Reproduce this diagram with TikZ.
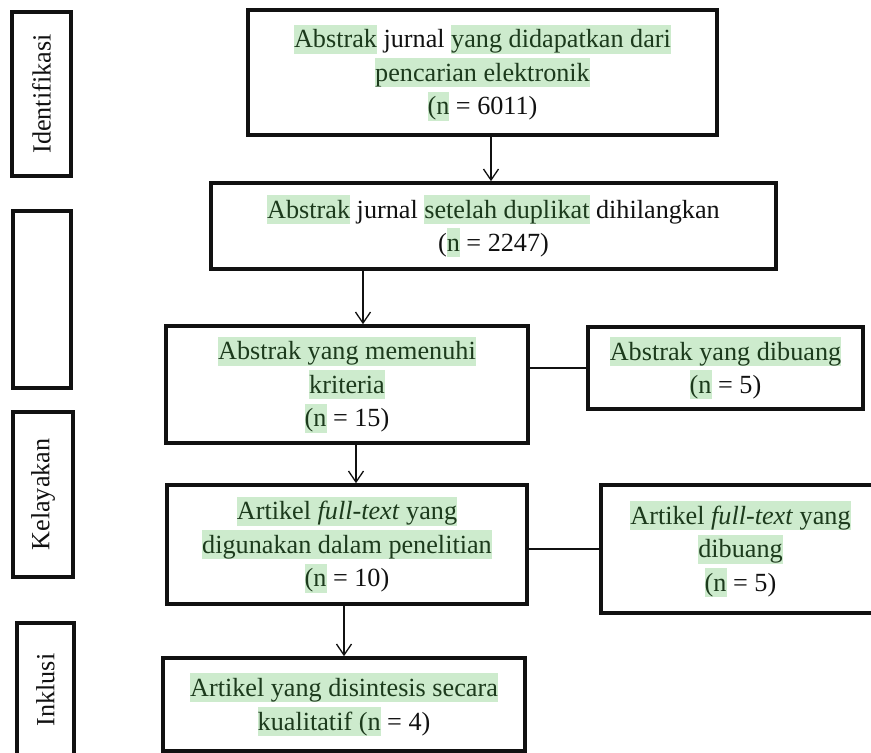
\documentclass[tikz,border=0pt]{standalone}
\usepackage{fontspec}
\setmainfont{Liberation Serif}
\usetikzlibrary{arrows.meta}
\definecolor{hlbg}{HTML}{CDEBCD}
\definecolor{hltext}{HTML}{1C3A1C}
\definecolor{ink}{HTML}{111111}
\newcommand\hlstrut{\rule[-0.216em]{0pt}{1.107em}}
\newcommand\hlt[1]{\begingroup\setlength{\fboxsep}{0pt}\colorbox{hlbg}{\hlstrut\textcolor{hltext}{#1}}\endgroup}
\begin{document}
\begin{tikzpicture}[x=1pt,y=-1pt,
  box/.style={draw=ink, line width=3.6pt, inner sep=0pt, align=center, text=ink,
    font=\fontsize{26.2}{33.5}\selectfont},
  side/.style={box, rotate=90},
  conn/.style={draw=ink, line width=1.3pt},
  arr/.style={conn, -{Straight Barb[length=11pt,width=15pt,line width=1.3pt]}}]
\useasboundingbox (0,0) rectangle (871,753);

% main flow
\node[box, minimum width=469pt, minimum height=125pt] (b1) at (482.5,72.5)
  {\hlt{Abstrak} jurnal \hlt{yang didapatkan dari}\\\hlt{pencarian elektronik}\\\hlt{(n} = 6011)};
\node[box, minimum width=565pt, minimum height=86pt] (b2) at (493.5,226)
  {\hlt{Abstrak} jurnal \hlt{setelah duplikat} dihilangkan\\(\hlt{n} = 2247)};
\node[box, minimum width=362pt, minimum height=117pt] (b3) at (347,384.5)
  {\hlt{Abstrak yang memenuhi}\\\hlt{kriteria}\\\hlt{(n} = 15)};
\node[box, minimum width=275pt, minimum height=82pt] (d1) at (725.5,368)
  {\hlt{Abstrak yang dibuang}\\\hlt{(n} = 5)};
\node[box, minimum width=360pt, minimum height=119pt] (b4) at (347,544.5)
  {\hlt{Artikel \textit{full-text} yang}\\\hlt{digunakan dalam penelitian}\\\hlt{(n} = 10)};
\node[box, minimum width=279pt, minimum height=128pt] (d2) at (740.5,549)
  {\hlt{Artikel \textit{full-text} yang}\\\hlt{dibuang}\\\hlt{(n} = 5)};
\node[box, minimum width=362pt, minimum height=93pt] (b5) at (344,704.5)
  {\hlt{Artikel yang disintesis secara}\\\hlt{kualitatif (n} = 4)};

% side labels
\node[side, minimum width=164pt, minimum height=59pt] (s1) at (41.5,94) {Identifikasi};
\node[side, minimum width=177pt, minimum height=58pt] (s2) at (42,299.5) {};
\node[side, minimum width=165pt, minimum height=60pt] (s3) at (43,494.5) {Kelayakan};
\node[side, minimum width=134pt, minimum height=57pt] (s4) at (45.5,690) {Inklusi};

% connectors
\coordinate (x12) at (491,0);
\coordinate (x23) at (363,0);
\coordinate (x34) at (356,0);
\draw[arr] (b1.south -| x12) -- (b2.north -| x12);
\draw[arr] (b2.south -| x23) -- (b3.north -| x23);
\draw[arr] (b3.south -| x34) -- (b4.north -| x34);
\draw[arr] (b4.south -| b5.north) -- (b5.north);
\draw[conn] (b3.east |- d1.west) -- (d1.west);
\draw[conn] (b4.east |- d2.west) -- (d2.west);
\end{tikzpicture}
\end{document}
